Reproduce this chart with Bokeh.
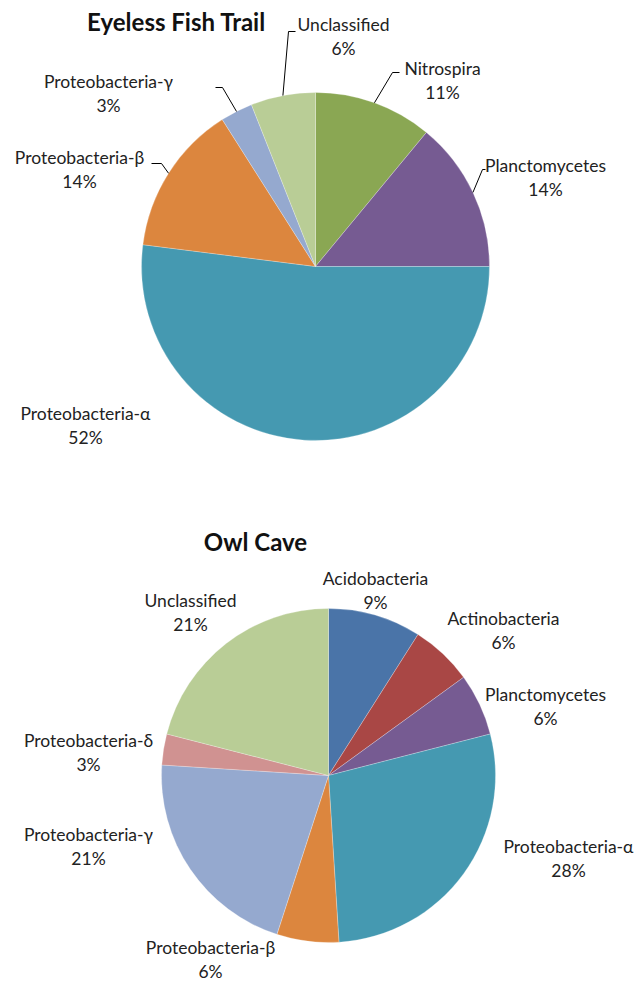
import math
from bokeh.plotting import figure
from bokeh.models import Range1d, ColumnDataSource
from bokeh.core.properties import value
from bokeh.embed import file_html
from bokeh.resources import INLINE

# ---------------- data ----------------
top_title = "Eyeless Fish Trail"
top_names = ["Nitrospira", "Planctomycetes", "Proteobacteria-α", "Proteobacteria-β",
             "Proteobacteria-γ", "Unclassified"]
top_vals = [11, 14, 52, 14, 3, 6]
top_colors = ["#8AA753", "#765B92", "#4599B1", "#DC863E", "#95A9CF", "#B9CD96"]

bot_title = "Owl Cave"
bot_names = ["Acidobacteria", "Actinobacteria", "Planctomycetes", "Proteobacteria-α",
             "Proteobacteria-β", "Proteobacteria-γ", "Proteobacteria-δ", "Unclassified"]
bot_vals = [9, 6, 6, 28, 6, 21, 3, 21]
bot_colors = ["#4A74A8", "#A94745", "#765B92", "#4599B1", "#DC863E", "#95A9CF",
              "#D09291", "#B9CD96"]

# ---------------- layout (screen px) ----------------
W, H = 640, 983
FONT = "Lato"

def Y(ys):
    return H - ys

top_pie = dict(cx=315, cy=266, r=174)
bot_pie = dict(cx=328, cy=775, r=167)

top_title_pos = (176, 21)
bot_title_pos = (255, 541)

top_label_pos = {
    "Nitrospira": (442, 68),
    "Planctomycetes": (545, 165),
    "Proteobacteria-α": (85, 413),
    "Proteobacteria-β": (79, 157),
    "Proteobacteria-γ": (108, 81),
    "Unclassified": (343, 24),
}
top_leaders = {
    "Nitrospira": [(392, 72), (399, 72)],
    "Planctomycetes": [(482, 169), (485, 169)],
    "Proteobacteria-β": [(161, 163), (151, 163)],
    "Proteobacteria-γ": [(222, 87), (215, 87)],
    "Unclassified": [(288, 31), (295, 31)],
}
bot_label_pos = {
    "Acidobacteria": (375, 578),
    "Actinobacteria": (503, 618),
    "Planctomycetes": (545, 694),
    "Proteobacteria-α": (568, 846),
    "Proteobacteria-β": (210, 947),
    "Proteobacteria-γ": (88, 834),
    "Proteobacteria-δ": (88, 740),
    "Unclassified": (190, 600),
}
bot_leaders = {}

p = figure(width=W, height=H, output_backend="svg", toolbar_location=None,
           x_range=Range1d(0, W), y_range=Range1d(0, H),
           min_border=0, outline_line_color=None)
p.axis.visible = False
p.grid.visible = False
p.background_fill_color = "white"


def draw_pie(names, vals, colors, pie, label_pos, leaders, title, title_pos):
    total = float(sum(vals))
    starts, ends, mids = [], [], []
    cum = 0.0
    for v in vals:
        a0 = math.pi / 2 - 2 * math.pi * cum / total
        cum += v
        a1 = math.pi / 2 - 2 * math.pi * cum / total
        starts.append(a0)
        ends.append(a1)
        mids.append((a0 + a1) / 2)
    src = ColumnDataSource(dict(start=starts, end=ends, color=colors))
    p.wedge(x=pie["cx"], y=Y(pie["cy"]), radius=pie["r"], start_angle="start",
            end_angle="end", direction="clock", fill_color="color",
            line_color="white", line_width=0.5, line_alpha=0.5, source=src)

    lx, ly1, ly2, t1, t2 = [], [], [], [], []
    for n, v in zip(names, vals):
        x, y = label_pos[n]
        lx.append(x)
        ly1.append(Y(y))
        ly2.append(Y(y + 23.5))
        t1.append(n)
        t2.append(f"{v}%")
    for yy, tt in ((ly1, t1), (ly2, t2)):
        p.text(x=lx, y=yy, text=tt, text_font=value(FONT), text_font_size="17.5px",
               text_color="#222222", text_align="center", text_baseline="middle")

    for n, m in zip(names, mids):
        if n not in leaders:
            continue
        ex = pie["cx"] + pie["r"] * math.cos(m)
        ey = Y(pie["cy"]) + pie["r"] * math.sin(m)
        xs = [ex] + [pt[0] for pt in leaders[n]]
        ys = [ey] + [Y(pt[1]) for pt in leaders[n]]
        p.line(xs, ys, line_color="black", line_width=1)

    p.text(x=[title_pos[0]], y=[Y(title_pos[1])], text=[title], text_font=value(FONT),
           text_font_size="24px", text_font_style="bold", text_color="#111111",
           text_align="center", text_baseline="middle")


draw_pie(top_names, top_vals, top_colors, top_pie, top_label_pos, top_leaders,
         top_title, top_title_pos)
draw_pie(bot_names, bot_vals, bot_colors, bot_pie, bot_label_pos, bot_leaders,
         bot_title, bot_title_pos)

open("out.html", "w").write(file_html(p, INLINE))
